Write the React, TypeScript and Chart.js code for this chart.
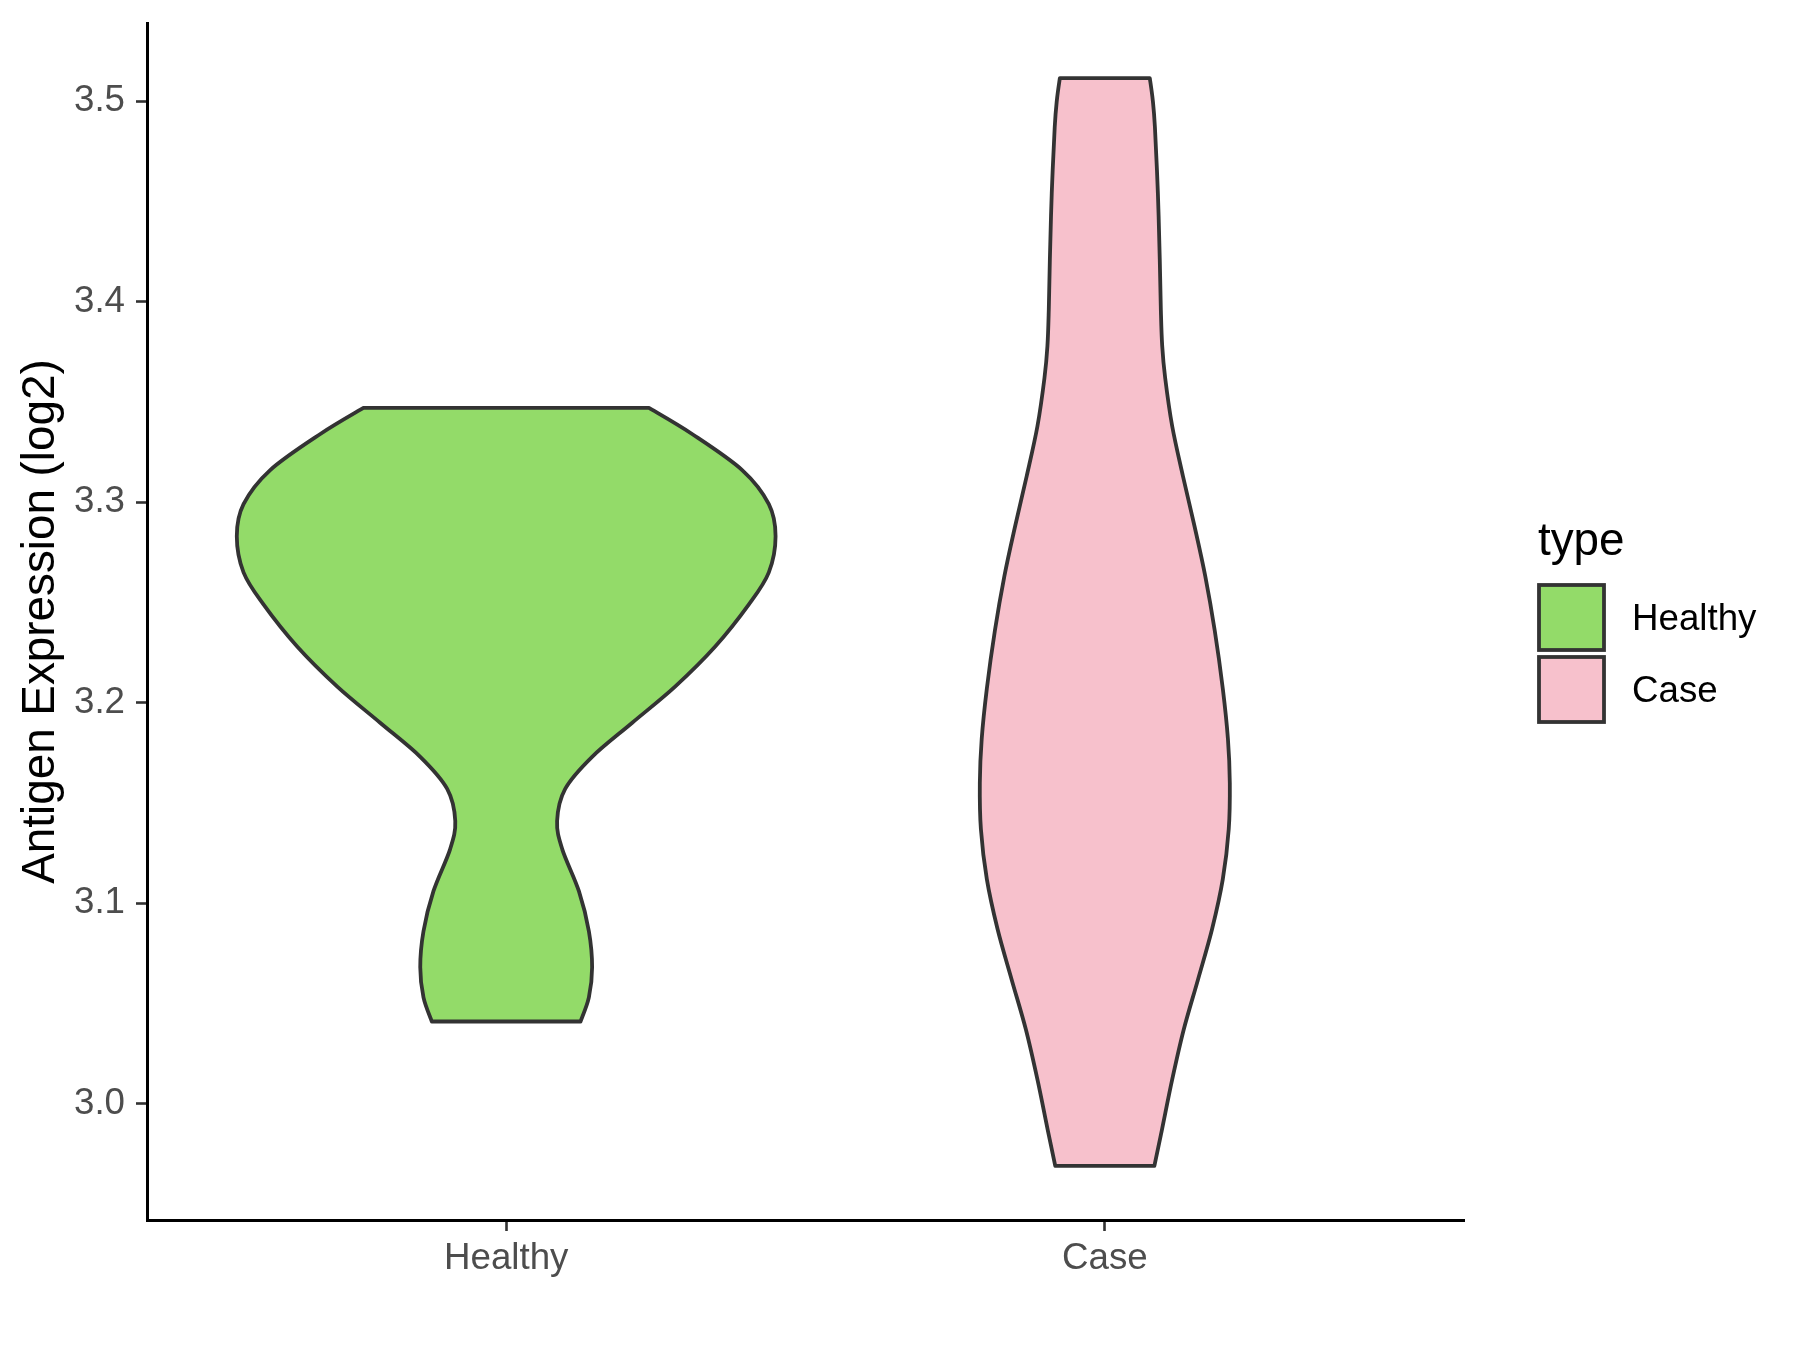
import React, { useEffect, useRef } from "react";
import { Chart, registerables } from "chart.js";

Chart.register(...registerables);

// ---- Data ----
const categories = ["Healthy", "Case"];
const legendTitle = "type";
const yAxisTitle = "Antigen Expression (log2)";
const yTicks = [3.0, 3.1, 3.2, 3.3, 3.4, 3.5];

// Healthy violin: y values (top -> bottom) and relative density (half-width, max = 1)
const healthyValues = [3.347, 3.334, 3.316, 3.299, 3.283, 3.265, 3.249, 3.228, 3.208, 3.19, 3.173, 3.157, 3.141, 3.127, 3.106, 3.086, 3.068, 3.053, 3.041];
const healthyDensity = [0.53, 0.69, 0.876, 0.975, 1.0, 0.975, 0.901, 0.776, 0.627, 0.468, 0.319, 0.219, 0.189, 0.208, 0.27, 0.307, 0.319, 0.307, 0.276];

// Case violin
const caseValues = [3.5115, 3.5005, 3.487, 3.454, 3.421, 3.396, 3.378, 3.362, 3.338, 3.313, 3.288, 3.263, 3.236, 3.207, 3.182, 3.16, 3.137, 3.112, 3.087, 3.062, 3.037, 3.012, 2.987, 2.969];
const caseDensity = [0.167, 0.178, 0.186, 0.197, 0.204, 0.208, 0.213, 0.224, 0.25, 0.29, 0.333, 0.373, 0.408, 0.438, 0.457, 0.464, 0.46, 0.438, 0.398, 0.346, 0.293, 0.25, 0.212, 0.184];

const fillColors = ["#93DB69", "#F7C1CC"];
const outlineColor = "#333333";
const FONT = "'Liberation Sans', Arial, Helvetica, sans-serif";

type Pt = { x: number; y: number };

function smoothPath(ctx: CanvasRenderingContext2D, pts: Pt[]) {
  for (let i = 0; i < pts.length - 1; i++) {
    const p0 = pts[Math.max(0, i - 1)];
    const p1 = pts[i];
    const p2 = pts[i + 1];
    const p3 = pts[Math.min(pts.length - 1, i + 2)];
    const c1x = p1.x + (p2.x - p0.x) / 6;
    const c1y = p1.y + (p2.y - p0.y) / 6;
    const c2x = p2.x - (p3.x - p1.x) / 6;
    const c2y = p2.y - (p3.y - p1.y) / 6;
    ctx.bezierCurveTo(c1x, c1y, c2x, c2y, p2.x, p2.y);
  }
}

const violinPlugin = {
  id: "violins",
  beforeDatasetsDraw(chart: any) {
    const { ctx } = chart;
    const xs = chart.scales.x;
    const ys = chart.scales.y;
    const maxHalf = 0.45;
    const groups = [
      { center: 1, values: healthyValues, dens: healthyDensity, color: fillColors[0] },
      { center: 2, values: caseValues, dens: caseDensity, color: fillColors[1] },
    ];
    groups.forEach((g) => {
      const left: Pt[] = g.values.map((v, i) => ({
        x: xs.getPixelForValue(g.center - maxHalf * g.dens[i]),
        y: ys.getPixelForValue(v),
      }));
      const right: Pt[] = g.values
        .map((v, i) => ({
          x: xs.getPixelForValue(g.center + maxHalf * g.dens[i]),
          y: ys.getPixelForValue(v),
        }))
        .reverse();
      ctx.save();
      ctx.beginPath();
      ctx.moveTo(left[0].x, left[0].y);
      smoothPath(ctx, left);
      ctx.lineTo(right[0].x, right[0].y);
      smoothPath(ctx, right);
      ctx.closePath();
      ctx.fillStyle = g.color;
      ctx.fill();
      ctx.lineWidth = 3.8;
      ctx.lineJoin = "round";
      ctx.strokeStyle = outlineColor;
      ctx.stroke();
      ctx.restore();
    });
  },
  afterDraw(chart: any) {
    const { ctx } = chart;
    ctx.save();
    ctx.fillStyle = "#000000";
    ctx.font = `45.8px ${FONT}`;
    ctx.textBaseline = "alphabetic";
    ctx.textAlign = "left";
    ctx.fillText(legendTitle, 1538, 555);
    const boxTops = [585, 657];
    categories.forEach((c, i) => {
      ctx.fillStyle = fillColors[i];
      ctx.fillRect(1539, boxTops[i], 65, 65);
      ctx.lineWidth = 3.8;
      ctx.strokeStyle = outlineColor;
      ctx.strokeRect(1539, boxTops[i], 65, 65);
      ctx.fillStyle = "#000000";
      ctx.font = `36.7px ${FONT}`;
      ctx.fillText(c, 1632, boxTops[i] + 45);
    });
    ctx.restore();
  },
};

export default function App() {
  const ref = useRef<HTMLCanvasElement>(null);
  useEffect(() => {
    document.body.style.margin = "0";
    const chart = new Chart(ref.current!, {
      type: "scatter",
      data: { datasets: [] },
      options: {
        animation: false,
        responsive: true,
        maintainAspectRatio: false,
        layout: { padding: { top: 23, right: 336, left: 0, bottom: 0 } },
        plugins: { legend: { display: false }, tooltip: { enabled: false } },
        scales: {
          x: {
            type: "linear",
            min: 0.4,
            max: 2.6,
            afterBuildTicks: (s: any) => {
              s.ticks = categories.map((_, i) => ({ value: i + 1 }));
            },
            afterFit: (s: any) => {
              s.height = 130;
            },
            ticks: {
              autoSkip: false,
              maxRotation: 0,
              padding: 6,
              color: "#4D4D4D",
              font: { family: FONT, size: 36.7 },
              callback: (v: any) => categories[Math.round(Number(v)) - 1] ?? "",
            },
            grid: {
              display: true,
              drawOnChartArea: false,
              drawTicks: true,
              tickLength: 11,
              tickColor: "#333333",
              tickWidth: 2.6,
            },
            border: { display: true, color: "#000000", width: 3 },
          },
          y: {
            type: "linear",
            min: 2.942,
            max: 3.539,
            afterBuildTicks: (s: any) => {
              s.ticks = yTicks.map((v) => ({ value: v }));
            },
            afterFit: (s: any) => {
              s.width = 147;
              s.paddingTop = 0;
              s.paddingBottom = 0;
            },
            ticks: {
              padding: 11,
              color: "#4D4D4D",
              font: { family: FONT, size: 36.7 },
              callback: (v: any) => Number(v).toFixed(1),
            },
            grid: {
              display: true,
              drawOnChartArea: false,
              drawTicks: true,
              tickLength: 11,
              tickColor: "#333333",
              tickWidth: 2.6,
            },
            border: { display: true, color: "#000000", width: 3 },
            title: {
              display: true,
              text: yAxisTitle,
              color: "#000000",
              font: { family: FONT, size: 45.8 },
              padding: { top: 14, bottom: 0 },
            },
          },
        },
      },
      plugins: [violinPlugin],
    });
    return () => chart.destroy();
  }, []);
  return (
    <div style={{ position: "absolute", left: 0, top: 0, width: 1800, height: 1350, background: "#ffffff" }}>
      <canvas ref={ref} />
    </div>
  );
}
